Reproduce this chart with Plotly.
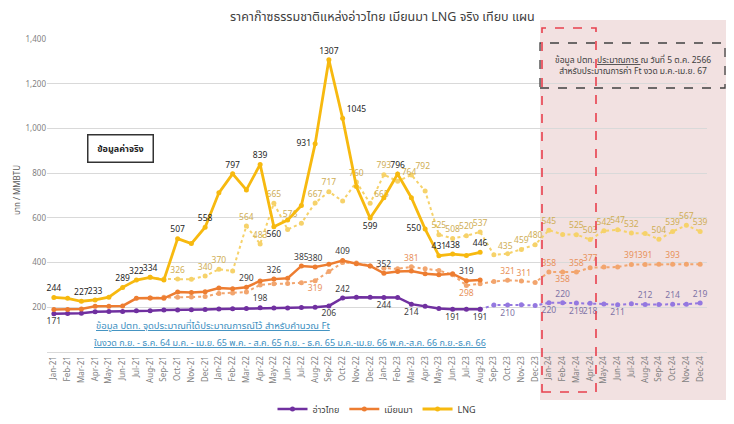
import plotly.graph_objects as go

months = ["Jan-21","Feb-21","Mar-21","Apr-21","May-21","Jun-21","Jul-21","Aug-21","Sep-21","Oct-21","Nov-21","Dec-21",
          "Jan-22","Feb-22","Mar-22","Apr-22","May-22","Jun-22","Jul-22","Aug-22","Sep-22","Oct-22","Nov-22","Dec-22",
          "Jan-23","Feb-23","Mar-23","Apr-23","May-23","Jun-23","Jul-23","Aug-23","Sep-23","Oct-23","Nov-23","Dec-23",
          "Jan-24","Feb-24","Mar-24","Apr-24","May-24","Jun-24","Jul-24","Aug-24","Sep-24","Oct-24","Nov-24","Dec-24"]

# Actual (Jan-21 .. Aug-23)
thai_actual = [171,172,173,180,181,181,184,185,188,188,189,190,192,193,195,198,197,197,199,200,206,242,245,245,
               244,244,214,205,195,191,191,191]
myanmar_actual = [190,190,192,205,205,206,240,242,240,268,266,270,286,283,290,318,326,330,385,380,392,409,395,385,
                  352,360,362,350,345,350,319,322]
lng_actual = [244,240,227,233,245,289,322,334,322,507,485,558,712,797,725,839,560,590,655,931,1307,1045,740,599,
              690,796,690,550,431,438,432,446]

# Plan series
lng_plan_start = 7   # Aug-21
lng_plan = [334,326,326,325,340,370,362,564,483,665,548,576,667,717,675,760,665,793,764,792,720,
            525,508,520,537,435,440,459,480,545,526,525,503,542,547,532,530,504,539,567,539]
myanmar_plan_start = 7
myanmar_plan = [242,245,245,246,248,262,264,268,300,305,306,310,319,360,400,398,385,375,372,381,372,
                365,345,298,305,315,321,318,311,358,358,358,377,380,380,391,391,392,393,393,393]
thai_plan_start = 31  # Aug-23
thai_plan = [191,210,210,211,208,220,220,219,218,215,211,216,212,213,214,214,219]

# which points carry a data label (index in full month list) and where
lng_act_lbl = {0:"top center",2:"top center",3:"top center",5:"top center",6:"top center",7:"top center",
               9:"top center",11:"top center",13:"top center",15:"top center",16:"bottom center",19:"middle left",
               20:"top center",21:"top right",23:"bottom center",25:"top center",27:"middle left",
               28:"top center",29:"top center",31:"top center"}
mm_act_lbl = {14:"top center",16:"top center",18:"top center",19:"top center",21:"top center",24:"top center",30:"top center"}
th_act_lbl = {0:"bottom center",15:"top center",20:"bottom center",21:"top center",24:"bottom center",26:"bottom center",
              29:"bottom center",31:"bottom center"}
lng_plan_lbl = {9:"top center",11:"top center",12:"top center",14:"top center",15:"top center",16:"top center",
                18:"top left",19:"top center",20:"top center",22:"top center",23:"top right",24:"top center",
                25:"top right",26:"top right",28:"top center",29:"top center",30:"top center",31:"top center",
                32:"top right",34:"top center",35:"top center",36:"top center",38:"top center",39:"top center",
                40:"top center",41:"top center",42:"top center",44:"top center",45:"top center",46:"top center",47:"top center"}
mm_plan_lbl = {19:"bottom center",26:"top center",30:"bottom center",33:"top center",35:"top left",36:"top center",
               37:"bottom center",38:"top center",39:"top center",42:"top center",43:"top center",45:"top center"}
th_plan_lbl = {33:"bottom center",36:"bottom center",37:"top center",38:"bottom center",39:"bottom center",
               41:"bottom center",43:"top center",45:"top center",47:"top center"}

PURPLE, ORANGE, GOLD = "#7030A0", "#ED7D31", "#F7B90F"
PURPLE_P, ORANGE_P, GOLD_P = "#9478E0", "#F2A56E", "#F6D26A"


def labels(values, start, lbl):
    txt, pos = [], []
    for k, v in enumerate(values):
        i = start + k
        if i in lbl:
            txt.append(str(v)); pos.append(lbl[i])
        else:
            txt.append(""); pos.append("top center")
    return txt, pos


fig = go.Figure()

def add(values, start, lbl, color, dash, width, mcolor, tcolor, name, legend):
    txt, pos = labels(values, start, lbl)
    fig.add_trace(go.Scatter(
        x=months[start:start + len(values)], y=values, name=name, showlegend=legend,
        mode="lines+markers+text", text=txt, textposition=pos,
        textfont=dict(size=8.5, color=tcolor, family="Noto Sans, Tahoma, sans-serif"),
        line=dict(color=color, width=width, dash=dash),
        marker=dict(color=mcolor, size=5), hoverinfo="skip", cliponaxis=False))

# plan (dotted) first, then actual
add(lng_plan, lng_plan_start, lng_plan_lbl, GOLD_P, "dot", 2, GOLD_P, "#CFAE55", "LNG plan", False)
add(myanmar_plan, myanmar_plan_start, mm_plan_lbl, ORANGE_P, "dot", 2, ORANGE_P, "#E8915A", "Myanmar plan", False)
add(thai_plan, thai_plan_start, th_plan_lbl, PURPLE_P, "dot", 2, PURPLE_P, "#7F73A6", "Thai plan", False)
add(thai_actual, 0, th_act_lbl, PURPLE, "solid", 2.5, PURPLE, "#404040", "อ่าวไทย", True)
add(myanmar_actual, 0, mm_act_lbl, ORANGE, "solid", 2.5, ORANGE, "#404040", "เมียนมา", True)
add(lng_actual, 0, lng_act_lbl, GOLD, "solid", 2.8, GOLD, "#262626", "LNG", True)

# page (screenshot) pixel geometry; the page body adds an 8px offset
OFF = 8
PL, PR, PT, PB = 47, 707, 39, 352      # plot area in page pixels
W, H = 734 - OFF, 424 - OFF
L, R, T, B = PL - OFF, PR - OFF, PT - OFF, PB - OFF
def px(x): return (x - PL) / (PR - PL)
def py(y): return (PB - y) / (PB - PT)

shapes = [
    dict(type="rect", xref="paper", yref="paper", x0=px(540), x1=px(726), y0=py(400), y1=py(20),
         fillcolor="#F2E1E1", line=dict(width=0), layer="below"),
    dict(type="rect", xref="paper", yref="paper", x0=px(542), x1=px(596), y0=py(392), y1=py(28),
         line=dict(color="#E8404E", width=1.6, dash="dash"), fillcolor="rgba(0,0,0,0)", layer="above"),
    dict(type="rect", xref="paper", yref="paper", x0=px(540), x1=px(725), y0=py(88), y1=py(43),
         line=dict(color="#404040", width=1.3, dash="dash"), fillcolor="rgba(0,0,0,0)", layer="above"),
]

font_th = "Noto Sans Thai, Tahoma, Noto Sans, sans-serif"
def ann(text, x, y, size, color, **kw):
    d = dict(text=text, xref="paper", yref="paper", x=px(x), y=py(y), showarrow=False,
             xanchor="center", yanchor="middle", font=dict(size=size, color=color, family=font_th))
    d.update(kw)
    return d

annotations = [
    ann("ราคาก๊าซธรรมชาติแหล่งอ่าวไทย เมียนมา LNG จริง เทียบ แผน", 382, 18, 12.5, "#404040"),
    ann("<b>ข้อมูลค่าจริง</b>", 120, 148, 9, "#262626", bordercolor="#333333", borderwidth=1.5,
        borderpad=6, bgcolor="white", width=52),
    ann("ข้อมูล ปตท. <u>ประมาณการ </u>ณ วันที่ 5 ต.ค. 2566<br>สำหรับประมาณการค่า Ft งวด ม.ค.-เม.ย. 67",
        633, 65.5, 8.5, "#404040", align="center"),
    ann("<u>ข้อมูล ปตท. จุดประมาณที่ได้ประมาณการณ์ไว้ สำหรับคำนวณ Ft</u>", 94, 326, 9.5, "#3C8FBF",
        xanchor="left"),
    ann("<u>ในงวด ก.ย. - ธ.ค. 64 ม.ค. - เม.ย. 65 พ.ค. - ส.ค. 65 ก.ย. - ธ.ค. 65 ม.ค.-เม.ย. 66 พ.ค.-ส.ค. 66 ก.ย.-ธ.ค. 66</u>",
        92, 343, 9, "#3C8FBF", xanchor="left"),
    ann("บาท / MMBTU", 18, 190, 8, "#595959", textangle=-90),
]

fig.update_layout(
    width=W, height=H, margin=dict(l=L, r=W - R, t=T, b=H - B, autoexpand=False),
    paper_bgcolor="white", plot_bgcolor="rgba(0,0,0,0)",
    shapes=shapes, annotations=annotations,
    font=dict(family=font_th, color="#595959"),
    legend=dict(orientation="h", x=0.5, xanchor="center", y=py(409), yanchor="middle",
                font=dict(size=9, color="#404040"), itemwidth=30, bgcolor="rgba(0,0,0,0)"),
)
fig.update_xaxes(type="category", categoryorder="array", categoryarray=months, tickangle=-90,
                 tickfont=dict(size=8, color="#7F7F7F"), showgrid=False, showline=True,
                 linecolor="#D9D9D9", ticks="", range=[-0.5, 47.5], automargin=False)
fig.update_yaxes(range=[0, 1400], tickvals=[200, 400, 600, 800, 1000, 1200, 1400], tickformat=",",
                 tickfont=dict(size=8, color="#7F7F7F"), gridcolor="#D9D9D9", gridwidth=1,
                 zeroline=False, showline=False, automargin=False)

fig.write_html("out.html")
